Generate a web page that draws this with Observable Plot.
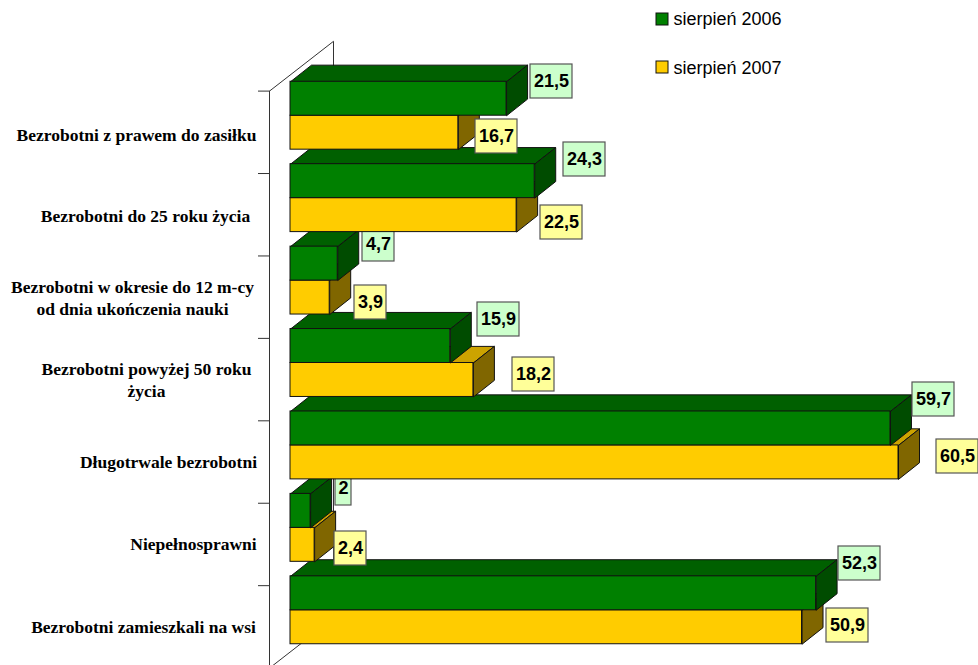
<!DOCTYPE html>
<html>
<head>
<meta charset="utf-8">
<style>html,body{margin:0;padding:0;background:#fff}svg{display:block}</style>
<script src="https://cdn.jsdelivr.net/npm/d3@7"></script>
<script src="https://cdn.jsdelivr.net/npm/@observablehq/plot@0.6"></script>
</head>
<body>
<script>
const categories = [
  "Bezrobotni z prawem do zasiłku",
  "Bezrobotni do 25 roku życia",
  "Bezrobotni w okresie do 12 m-cy\nod dnia ukończenia nauki",
  "Bezrobotni powyżej 50 roku\nżycia",
  "Długotrwale bezrobotni",
  "Niepełnosprawni",
  "Bezrobotni zamieszkali na wsi"
];
const values2006 = [21.5, 24.3, 4.7, 15.9, 59.7, 2, 52.3];
const values2007 = [16.7, 22.5, 3.9, 18.2, 60.5, 2.4, 50.9];
const seriesNames = ["sierpień 2006", "sierpień 2007"];

// layout (not data): pixel helpers for the hand-placed annotations of the original
const xDomain = [0, 60.5], xRange = [290, 898];
const yDomain = [0, 7], yRange = [74, 651];
const X = px => (px - xRange[0]) * (xDomain[1] - xDomain[0]) / (xRange[1] - xRange[0]);
const Y = px => (px - yRange[0]) * (yDomain[1] - yDomain[0]) / (yRange[1] - yRange[0]);
const depthX = X(xRange[0] + 21), depthY = Y(yRange[0] + 16.6);
const gap = 0.088, mid = 0.5;

const label2006 = [[551,81],[584,159],[378,244],[498,319],[933,399],[343,488],[859,563]];
const label2007 = [[496,136],[561,222],[370,302],[533,374],[957,456],[350,548],[847,625]];
const catPos = [[136,133.5],[145,214.5],[132,296],[146,378],[168,460.5],[193,542.5],[143,625.5]];

const palette = {
  g: {front:"#008000", top:"#006000", side:"#004c00", box:"#ccffcc"},
  y: {front:"#ffcc00", top:"#cca300", side:"#806600", box:"#ffff99"}
};
const edge = "#111";

function barMarks(v, y1, y2, c) {
  const top = [[0,y1],[depthX,y1-depthY],[v+depthX,y1-depthY],[v,y1],[0,y1]];
  const side = [[v,y1],[v+depthX,y1-depthY],[v+depthX,y2-depthY],[v,y2],[v,y1]];
  const opt = {x:d=>d[0], y:d=>d[1], stroke:edge, strokeWidth:1, strokeLinejoin:"miter"};
  return [
    Plot.line(top, {...opt, fill:c.top}),
    Plot.line(side, {...opt, fill:c.side}),
    Plot.rect([{v,y1,y2}], {x1:0, x2:"v", y1:"y1", y2:"y2", fill:c.front, stroke:edge, strokeWidth:1})
  ];
}

const boxW = s => s.length === 1 ? 16 : s.length === 3 ? 32 : 42;
const labelFont = {fontFamily:"Liberation Sans", fontWeight:"bold", fontSize:18, fill:"#000"};

function labelMarks(i) {
  const rows = [
    {s:String(values2006[i]).replace(".",","), p:label2006[i], c:palette.g.box},
    {s:String(values2007[i]).replace(".",","), p:label2007[i], c:palette.y.box}
  ];
  return [
    Plot.rect(rows, {
      x1:d=>X(d.p[0]-boxW(d.s)/2), x2:d=>X(d.p[0]+boxW(d.s)/2),
      y1:d=>Y(d.p[1]-17), y2:d=>Y(d.p[1]+17),
      fill:"c", stroke:"#555", strokeWidth:1.2
    }),
    Plot.text(rows, {x:d=>X(d.p[0]), y:d=>Y(d.p[1]), text:"s", ...labelFont})
  ];
}

// rows are painted bottom-up, so an upper row's bar covers a lower row's label, as in the original
const rowsReversed = d3.range(categories.length).reverse();
const bars = rowsReversed.flatMap(i => [
  ...barMarks(values2007[i], i + mid, i + 1 - gap, palette.y),
  ...barMarks(values2006[i], i + gap, i + mid, palette.g),
  ...labelMarks(i)
]);

// wall: front edge, top edge, back edge, floor edge
const wallFrontX = -depthX, backX = 2 * depthX + X(xRange[0] + 1);
const wall = [
  [wallFrontX, 0 + depthY], [backX, 0 - 2 * depthY],
  [backX, 7 - 2 * depthY], [wallFrontX, 7 + depthY], [wallFrontX, 0 + depthY]
];
const tickLen = X(xRange[0] + 11);
const ticks = d3.range(8).map(i => i + depthY);

const chart = Plot.plot({
  width: 978, height: 665,
  marginTop: 0, marginRight: 0, marginBottom: 0, marginLeft: 0,
  style: {background:"#fff"},
  x: {domain:xDomain, range:xRange, axis:null},
  y: {domain:yDomain, range:yRange, axis:null},
  color: {type:"identity"},
  marks: [
    Plot.line(wall, {x:d=>d[0], y:d=>d[1], stroke:"#333", strokeWidth:1, strokeLinejoin:"miter"}),
    Plot.ruleY(ticks, {x1:wallFrontX - tickLen, x2:wallFrontX, stroke:"#333", strokeWidth:1}),
    ...bars,
    // category labels
    Plot.text(categories, {
      x:(d,i)=>X(catPos[i][0]), y:(d,i)=>Y(catPos[i][1]), text:d=>d,
      fontFamily:"Liberation Serif", fontWeight:"bold", fontSize:17.5, lineHeight:1.26, fill:"#000", textAnchor:"middle"
    }),
    // legend
    Plot.rect(seriesNames, {
      x1:X(656), x2:X(668),
      y1:(d,i)=>Y(i?61:13), y2:(d,i)=>Y(i?73:25),
      fill:(d,i)=>i?palette.y.front:palette.g.front, stroke:edge, strokeWidth:1
    }),
    Plot.text(seriesNames, {
      x:X(673), y:(d,i)=>Y(i?68:19), text:d=>d, textAnchor:"start",
      fontFamily:"Liberation Sans", fontSize:18, fill:"#000"
    })
  ]
});
document.body.appendChild(chart);
</script>
</body>
</html>
